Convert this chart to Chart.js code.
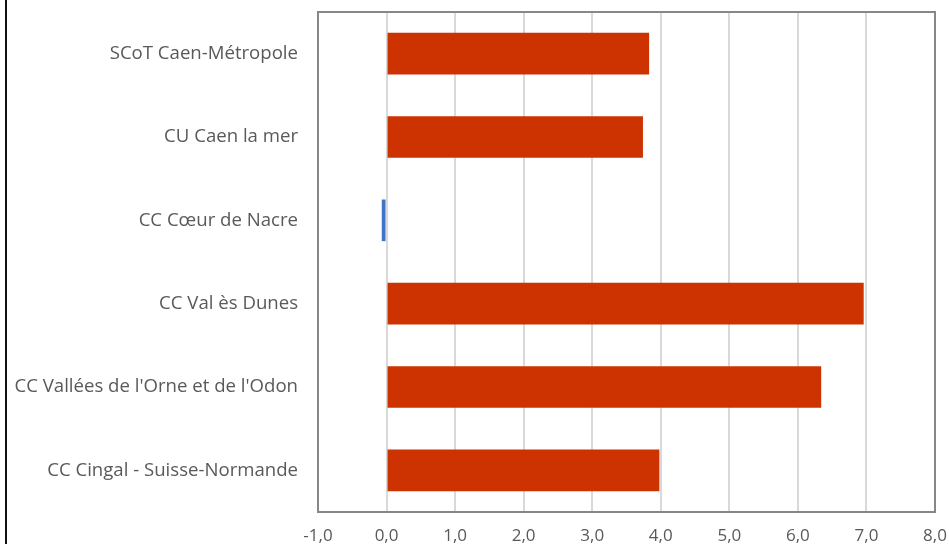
<!DOCTYPE html>
<html><head><meta charset="utf-8">
<script src="https://cdn.jsdelivr.net/npm/chart.js@4.4.1/dist/chart.umd.min.js"></script>
<style>
html,body{margin:0;padding:0;background:#fff;}
#wrap{position:relative;width:949px;height:544px;}
#edge{position:absolute;left:5px;top:0;width:2px;height:544px;background:#111;}
canvas{position:absolute;left:0;top:0;}
</style></head>
<body><div id="wrap"><canvas id="c" width="949" height="544"></canvas><div id="edge"></div></div>
<script>
const categories = ["SCoT Caen-Métropole","CU Caen la mer","CC Cœur de Nacre","CC Val ès Dunes","CC Vallées de l'Orne et de l'Odon","CC Cingal - Suisse-Normande"];
const values = [3.83, 3.74, -0.07, 6.96, 6.34, 3.98];
const xMin = -1, xMax = 8, xStep = 1;
const positiveColor = "#CC3300", negativeColor = "#4472C4";

const frame = {
  id:'frame',
  afterDraw(chart){
    const a = chart.chartArea, ctx = chart.ctx;
    ctx.save(); ctx.strokeStyle='#878787'; ctx.lineWidth=2;
    ctx.strokeRect(a.left, a.top, a.right-a.left, a.bottom-a.top);
    ctx.restore();
  }
};
new Chart(document.getElementById('c'), {
  type:'bar',
  data:{labels:categories, datasets:[{data:values, backgroundColor:values.map(v=>v<0?negativeColor:positiveColor), categoryPercentage:1, barPercentage:0.5}]},
  options:{
    indexAxis:'y', responsive:false, animation:false,
    layout:{padding:{left:0,right:14,top:12,bottom:0}},
    plugins:{legend:{display:false}, tooltip:{enabled:false}},
    scales:{
      x:{min:xMin,max:xMax,
        afterFit:s=>{s.height=32; s.paddingLeft=0; s.paddingRight=0;},
        ticks:{stepSize:xStep,color:'#595959',font:{family:'Open Sans',size:17},padding:14,callback:v=>v.toFixed(1).replace('.',',')},
        grid:{color:'#d9d9d9',lineWidth:2,drawTicks:false},
        border:{display:false}},
      y:{afterFit:s=>{s.width=318; s.paddingTop=0; s.paddingBottom=0;},
        ticks:{color:'#595959',font:{family:'Open Sans',size:18.6},padding:20},
        grid:{display:false,drawTicks:false},
        border:{display:false}}
    }
  },
  plugins:[frame]
});
</script></body></html>
